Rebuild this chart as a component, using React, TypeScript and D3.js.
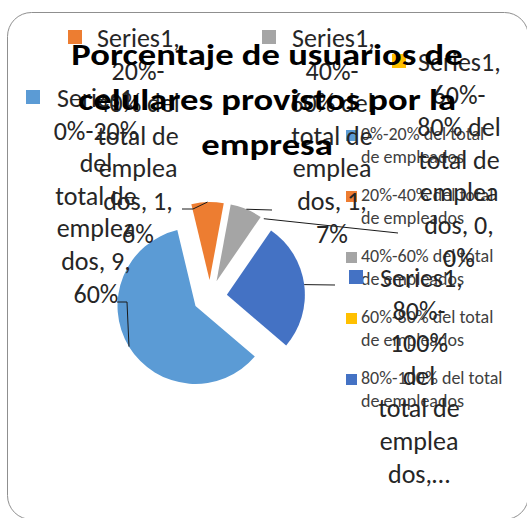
import * as d3 from "d3"

const categories = [
  "0%-20% del total de empleados",
  "20%-40% del total de empleados",
  "40%-60% del total de empleados",
  "60%-80% del total de empleados",
  "80%-100% del total de empleados",
]
const values = [9, 1, 1, 0, 4]
const colors = ["#5B9BD5", "#ED7D31", "#A5A5A5", "#FFC000", "#4472C4"]
const seriesName = "Series1"
// data label text as Excel wrapped it
const labelLines = [
  ["0%-20%", "del", "total de", "emplea", "dos, 9,", "60%"],
  ["20%-", "40% del", "total de", "emplea", "dos, 1,", "6%"],
  ["40%-", "60% del", "total de", "emplea", "dos, 1,", "7%"],
  ["60%-", "80% del", "total de", "emplea", "dos, 0,", "0%"],
  ["80%-", "100%", "del", "total de", "emplea", "dos,…"],
]
const titleLines = ["Porcentaje de usuarios de", "celulares provistos por la", "empresa"]

// label placement (marker, first line start, centre of wrapped lines, leader bends)
const labelPos = [
  { mx: 26, my: 90, sx: 57, cx: 96, y0: 107, leader: [[127, 302], [117, 302]] },
  { mx: 68, my: 30, sx: 97, cx: 138, y0: 47, leader: [[193, 209], [182, 209]] },
  { mx: 262, my: 30, sx: 292, cx: 332, y0: 47, leader: [[272, 210]] },
  { mx: 392, my: 54, sx: 418, cx: 459, y0: 71, leader: [[398, 233]] },
  { mx: 349, my: 270, sx: 380, cx: 419, y0: 287, leader: [[335, 285]] },
]

const font = "Carlito, Calibri, 'Liberation Sans', Arial, sans-serif"

export default function App() {
  const width = 527
  const height = 518
  const cx = 210
  const cy = 297
  const r = 78
  const explode = 17
  const start = (130.5 * Math.PI) / 180

  const pie = d3
    .pie<number>()
    .sort(null)
    .value((d) => d)
    .startAngle(start)
    .endAngle(start + 2 * Math.PI)
  const arcs = pie(values)
  const arc = d3.arc<d3.PieArcDatum<number>>().innerRadius(0).outerRadius(r)

  const lineH = 32.6

  return (
    <svg width={width} height={height} style={{ position: "absolute", left: 0, top: 0 }} fontFamily={font}>
      <rect x={7.5} y={12.5} width={521} height={507} rx={24} fill="#fff" stroke="#8f8f8f" strokeWidth={1} />

      {arcs.map((a, i) => {
        const mid = (a.startAngle + a.endAngle) / 2
        const ox = cx + explode * Math.sin(mid)
        const oy = cy - explode * Math.cos(mid)
        return (
          <g key={i} transform={`translate(${ox},${oy})`}>
            {a.endAngle > a.startAngle && <path d={arc(a) || ""} fill={colors[i]} />}
          </g>
        )
      })}

      {arcs.map((a, i) => {
        const mid = (a.startAngle + a.endAngle) / 2
        const px = cx + (explode + r) * Math.sin(mid)
        const py = cy - (explode + r) * Math.cos(mid)
        const pts = [[px, py], ...labelPos[i].leader]
        return <path key={i} d={d3.line()(pts as [number, number][]) || ""} fill="none" stroke="#1a1a1a" strokeWidth={1} />
      })}

      {categories.map((c, i) => {
        const y = 130 + i * 61
        const words = c.split(" ")
        return (
          <g key={c} fill="#404040" fontSize={18}>
            <rect x={346} y={y} width={11} height={11} fill={colors[i]} />
            <text x={361} y={y + 10}>{words.slice(0, 3).join(" ")}</text>
            <text x={361} y={y + 33}>{words.slice(3).join(" ")}</text>
          </g>
        )
      })}

      {labelPos.map((p, i) => (
        <g key={i} fill="#262626" fontSize={26}>
          <rect x={p.mx} y={p.my} width={14} height={14} fill={colors[i]} />
          <text x={p.sx} y={p.y0}>{seriesName + ","}</text>
          {labelLines[i].map((l, k) => (
            <text key={k} x={p.cx} y={p.y0 + (k + 1) * lineH} textAnchor="middle">
              {l}
            </text>
          ))}
        </g>
      ))}

      {titleLines.map((t, i) => (
        <g key={i} transform={`translate(267,${65 + i * 45}) scale(1.2,1)`}>
          <text textAnchor="middle" fontSize={30.5} fontWeight="bold" fill="#000">
            {t}
          </text>
        </g>
      ))}
    </svg>
  )
}
